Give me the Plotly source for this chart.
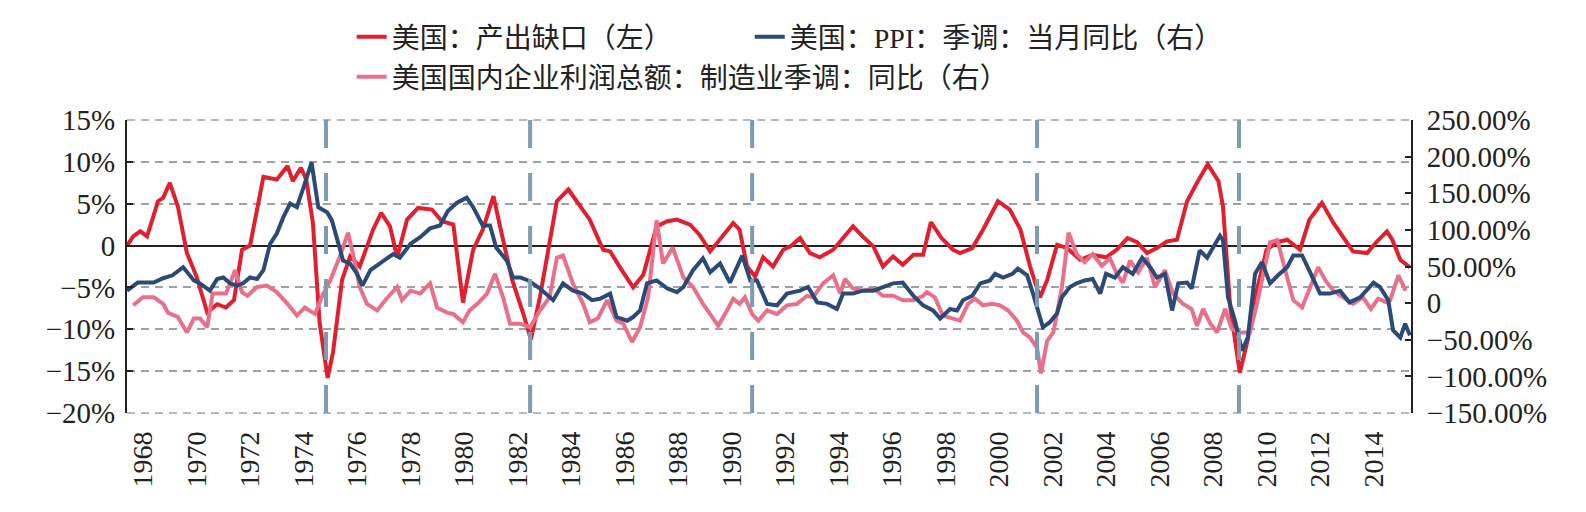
import plotly.graph_objects as go

# ---------------- data ----------------
gap_x = [1967.4, 1967.63, 1967.9, 1968.15, 1968.56, 1968.75, 1969.0, 1969.3, 1969.64, 1970.0, 1970.4, 1970.77,
         1971.1, 1971.4, 1971.7, 1972.0, 1972.5, 1973.0, 1973.4, 1973.6, 1973.9, 1974.1, 1974.35, 1974.6,
         1974.9, 1975.1, 1975.44, 1975.74, 1976.1, 1976.6, 1976.9, 1977.23, 1977.5, 1977.87, 1978.28, 1978.8,
         1979.17, 1979.6, 1979.96, 1980.34, 1980.7, 1981.1, 1981.4, 1981.8, 1982.2, 1982.5, 1982.84, 1983.2,
         1983.47, 1983.9, 1984.33, 1984.7, 1985.2, 1985.46, 1985.83, 1986.32, 1986.7, 1986.95, 1987.2, 1987.6,
         1987.96, 1988.45, 1988.8, 1989.2, 1989.57, 1990.06, 1990.3, 1990.58, 1990.88, 1991.18, 1991.55,
         1991.93, 1992.2, 1992.56, 1992.93, 1993.3, 1993.8, 1994.17, 1994.54, 1994.9, 1995.3, 1995.66, 1996.04,
         1996.4, 1996.8, 1997.16, 1997.45, 1997.85, 1998.28, 1998.54, 1999.0, 1999.4, 1999.96, 2000.4, 2000.8,
         2001.16, 2001.53, 2001.8, 2002.17, 2002.54, 2003.03, 2003.5, 2004.0, 2004.4, 2004.8, 2005.16, 2005.53,
         2005.9, 2006.28, 2006.65, 2007.03, 2007.4, 2007.8, 2008.2, 2008.37, 2008.64, 2009.0, 2009.3, 2009.64,
         2010.0, 2010.4, 2010.77, 2011.25, 2011.6, 2012.07, 2012.5, 2013.0, 2013.23, 2013.76, 2014.1, 2014.5,
         2014.7, 2015.0, 2015.36]
gap_y = [0.0, 1.1, 1.7, 1.1, 5.3, 5.7, 7.5, 4.7, -0.9, -3.7, -8.0, -7.0,
         -7.4, -6.5, -0.5, 0.0, 8.2, 7.9, 9.5, 7.7, 9.3, 7.9, 2.7, -9.2,
         -15.8, -12.8, -4.1, -1.3, -2.5, 1.9, 3.9, 2.3, -1.4, 3.1, 4.5, 4.3,
         2.9, 2.5, -6.8, -0.5, 1.9, 5.9, 1.5, -4.1, -8.0, -11.2, -6.1, 0.7,
         5.3, 6.7, 4.7, 3.1, -0.5, -0.7, -2.6, -5.0, -3.5, -0.5, 2.3, 2.9,
         3.1, 2.5, 1.3, -0.7, 0.7, 2.7, 1.9, -2.5, -3.7, -1.4, -2.5,
         -0.5, -0.1, 0.9, -0.9, -1.4, -0.5, 0.9, 2.3, 1.1, -0.1, -2.5, -1.3,
         -2.3, -1.1, -1.1, 2.8, 0.9, -0.5, -0.9, -0.3, 1.9, 5.3, 4.3, 1.9,
         -2.5, -6.2, -4.1, 0.1, -0.3, -1.7, -1.1, -1.4, -0.5, 0.9, 0.4, -0.9,
         -0.3, 0.5, 0.7, 5.3, 7.5, 9.7, 7.7, 4.7, -7.3, -15.2, -11.2, -5.3,
         -0.5, 0.4, 0.7, -0.5, 3.1, 5.1, 2.7, 0.4, -0.7, -0.9, 0.4, 1.7,
         0.7, -1.7, -2.6]

ppi_x = [1967.4, 1967.8, 1968.4, 1968.75, 1969.1, 1969.5, 1969.9, 1970.13, 1970.5, 1970.77, 1971.0, 1971.25,
         1971.5, 1971.74, 1972.0, 1972.26, 1972.5, 1972.75, 1973.0, 1973.24, 1973.5, 1973.75, 1974.0, 1974.3,
         1974.55, 1974.88, 1975.06, 1975.3, 1975.48, 1975.74, 1976.0, 1976.2, 1976.5, 1977.0, 1977.35, 1977.6,
         1978.0, 1978.36, 1978.73, 1979.1, 1979.4, 1979.74, 1980.1, 1980.34, 1980.7, 1980.97, 1981.2, 1981.6,
         1981.83, 1982.1, 1982.4, 1982.84, 1983.33, 1983.7, 1984.07, 1984.45, 1984.78, 1985.08, 1985.46, 1985.7,
         1986.1, 1986.32, 1986.58, 1986.84, 1987.2, 1987.6, 1987.96, 1988.2, 1988.56, 1988.93, 1989.2, 1989.57,
         1989.94, 1990.4, 1990.7, 1990.95, 1991.33, 1991.7, 1992.07, 1992.56, 1992.86, 1993.2, 1993.57, 1993.94,
         1994.17, 1994.54, 1994.9, 1995.3, 1995.66, 1996.04, 1996.4, 1996.8, 1997.16, 1997.53, 1997.8, 1998.17,
         1998.43, 1998.65, 1999.0, 1999.3, 1999.66, 1999.85, 2000.15, 2000.5, 2000.7, 2001.05, 2001.27, 2001.46,
         2001.64, 2001.9, 2002.17, 2002.35, 2002.65, 2002.9, 2003.2, 2003.5, 2003.78, 2004.0, 2004.33, 2004.63,
         2005.0, 2005.35, 2005.65, 2005.9, 2006.2, 2006.47, 2006.7, 2007.03, 2007.2, 2007.5, 2007.78, 2008.0,
         2008.26, 2008.37, 2008.56, 2008.82, 2009.08, 2009.3, 2009.57, 2009.83, 2010.13, 2010.43, 2010.77, 2011.0,
         2011.33, 2011.63, 2012.0, 2012.37, 2012.75, 2013.1, 2013.5, 2014.0, 2014.24, 2014.55, 2014.73, 2015.0,
         2015.18, 2015.36]
ppi_y = [17, 28, 28, 34, 38, 49, 31, 27, 17, 33, 35, 27,
         24, 27, 35, 33, 45, 81, 95, 117, 136, 131, 158, 192,
         131, 124, 113, 81, 58, 54, 40, 24, 45, 58, 67, 62,
         81, 90, 102, 106, 126, 137, 144, 131, 106, 106, 76, 58,
         35, 35, 31, 20, 4, 27, 17, 13, 4, 6, 13, -19,
         -24, -19, -10, 27, 31, 20, 15, 22, 45, 61, 42, 54,
         28, 65, 31, 31, -1, -3, 13, 17, 22, 1, -1, -8,
         13, 13, 17, 17, 22, 27, 28, 10, -3, -10, -21, -8,
         -10, 4, 10, 27, 31, 40, 35, 40, 47, 38, 13, -10,
         -33, -26, -14, 8, 22, 27, 31, 33, 13, 40, 35, 49,
         40, 62, 49, 35, 40, -10, 27, 28, 20, 72, 62, 76,
         92, 86, 8, -24, -65, -47, 40, 56, 27, 38, 49, 65,
         65, 42, 13, 13, 17, 1, 8, 28, 22, 4, -37, -47,
         -28, -44]

prof_x = [1967.63, 1968.0, 1968.4, 1968.75, 1968.93, 1969.3, 1969.64, 1969.9, 1970.13, 1970.4, 1970.6, 1970.88,
          1971.1, 1971.44, 1971.7, 1971.9, 1972.26, 1972.63, 1973.0, 1973.4, 1973.75, 1974.05, 1974.43, 1974.7,
          1975.0, 1975.37, 1975.66, 1975.85, 1976.1, 1976.37, 1976.75, 1977.1, 1977.5, 1977.68, 1978.0, 1978.36,
          1978.73, 1978.99, 1979.36, 1979.6, 1979.96, 1980.2, 1980.5, 1980.86, 1981.16, 1981.46, 1981.72, 1982.1,
          1982.47, 1982.84, 1983.2, 1983.47, 1983.7, 1984.07, 1984.45, 1984.7, 1985.0, 1985.35, 1985.7, 1985.95,
          1986.28, 1986.58, 1986.88, 1987.2, 1987.44, 1987.8, 1988.2, 1988.56, 1988.93, 1989.2, 1989.5, 1989.83,
          1990.06, 1990.3, 1990.5, 1990.77, 1991.0, 1991.33, 1991.7, 1992.07, 1992.45, 1992.82, 1993.05, 1993.42,
          1993.8, 1994.06, 1994.24, 1994.54, 1994.9, 1995.3, 1995.66, 1996.04, 1996.4, 1996.8, 1997.16, 1997.3,
          1997.6, 1997.9, 1998.28, 1998.54, 1998.84, 1999.1, 1999.4, 1999.74, 2000.04, 2000.34, 2000.67, 2000.9,
          2001.16, 2001.42, 2001.57, 2001.8, 2002.03, 2002.35, 2002.6, 2002.9, 2003.2, 2003.5, 2003.84, 2004.15,
          2004.4, 2004.63, 2004.9, 2005.2, 2005.53, 2005.83, 2006.2, 2006.5, 2006.88, 2007.2, 2007.4, 2007.63,
          2007.9, 2008.15, 2008.45, 2008.7, 2009.0, 2009.38, 2009.64, 2009.94, 2010.13, 2010.4, 2010.7, 2011.0,
          2011.33, 2011.63, 2011.93, 2012.2, 2012.5, 2012.86, 2013.23, 2013.6, 2013.9, 2014.17, 2014.5, 2014.62,
          2014.93, 2015.2]
prof_y = [-3, 8, 8, -1, -13, -19, -40, -21, -21, -33, 13, 13,
          13, 45, 15, 10, 22, 24, 15, -1, -17, -6, -15, 10,
          31, 65, 96, 67, 22, -1, -10, 6, 22, 4, 17, 13,
          27, -6, -13, -15, -26, -10, -1, 13, 40, 8, -28, -28,
          -33, -10, 8, 62, 65, 27, -1, -26, -21, 4, -24, -28,
          -53, -33, 8, 113, 54, 76, 35, 22, -1, -15, -31, -10,
          6, -1, 8, -15, -24, -10, -15, -3, -1, 10, 8, 27,
          38, 13, 33, 20, 17, 20, 10, 10, 4, 4, 10, 15,
          8, -17, -21, -24, -1, 6, -3, -1, -3, -10, -24, -40,
          -47, -61, -96, -51, -40, 22, 96, 67, 56, 67, 51, 61,
          40, 28, 58, 42, 62, 22, 45, 13, -1, -8, -31, -8,
          -28, -40, -8, -35, -40, -40, -1, 49, 83, 86, 45, 4,
          -6, 22, 49, 31, 17, 8, -1, 8, -8, 6, 1, 4,
          38, 17]

recession_x = [1974.84, 1982.47, 1990.77, 2001.42, 2008.97]

year_ticks = list(range(1968, 2015, 2))
year_labels = [str(y) for y in year_ticks]
left_ticks = [-20, -15, -10, -5, 0, 5, 10, 15]
left_labels = ["−20%", "−15%", "−10%", "−5%", "0", "5%", "10%", "15%"]
right_ticks = [-150, -100, -50, 0, 50, 100, 150, 200, 250]
right_labels = ["−150.00%", "−100.00%", "−50.00%", "0", "50.00%", "100.00%", "150.00%", "200.00%", "250.00%"]

names = ["美国：产出缺口（左）", "美国：PPI：季调：当月同比（右）", "美国国内企业利润总额：制造业季调：同比（右）"]

# ---------------- figure ----------------
RED = "#e0202e"
BLUE = "#2b4a78"
PINK = "#e8708a"
GRID = "#9aa3aa"
SERIF = "Liberation Serif, Times New Roman, serif"
LEGFONT = "Liberation Serif, Noto Sans CJK SC, serif"

fig = go.Figure()
fig.add_trace(go.Scatter(x=prof_x, y=prof_y, name=names[2], yaxis="y2", mode="lines",
                         line=dict(color=PINK, width=4), legend="legend3", showlegend=True))
fig.add_trace(go.Scatter(x=ppi_x, y=ppi_y, name=names[1], yaxis="y2", mode="lines",
                         line=dict(color=BLUE, width=4), legend="legend2", showlegend=True))
fig.add_trace(go.Scatter(x=gap_x, y=gap_y, name=names[0], yaxis="y", mode="lines",
                         line=dict(color=RED, width=4), legend="legend", showlegend=True))

# top and bottom dashed grid lines (plotly omits gridlines at the range edges)
for edge in (0, 1):
    fig.add_shape(type="line", xref="paper", yref="paper", x0=0, x1=1, y0=edge, y1=edge,
                  line=dict(color=GRID, width=1.5, dash="8px,6px"), layer="below")

for rx in recession_x:
    fig.add_shape(type="line", xref="x", yref="paper", x0=rx, x1=rx, y0=0, y1=1.01,
                  line=dict(color="#7d9bb3", width=4, dash="28px,25px"), layer="above")

leg_common = dict(orientation="h", xanchor="left", yanchor="middle", bgcolor="rgba(0,0,0,0)",
                  font=dict(family=LEGFONT, size=28, color="#222"), borderwidth=0, visible=True)

fig.update_layout(
    width=1586, height=512,
    margin=dict(l=127, r=175, t=120, b=99),
    paper_bgcolor="white", plot_bgcolor="white",
    showlegend=True,
    legend=dict(x=0.175, y=1.283, **leg_common),
    legend2=dict(x=0.485, y=1.283, **leg_common),
    legend3=dict(x=0.175, y=1.147, **leg_common),
    xaxis=dict(range=[1967.4, 2015.4], tickmode="array", tickvals=year_ticks, ticktext=year_labels,
               tickangle=-90, showgrid=False, zeroline=False, showline=False, ticks="",
               tickfont=dict(family=SERIF, size=28, color="#222"), ticklabelstandoff=12),
    yaxis=dict(range=[-20, 15], tickmode="array", tickvals=left_ticks, ticktext=left_labels,
               showgrid=True, gridcolor=GRID, griddash="8px,6px", gridwidth=1.5,
               zeroline=True, zerolinecolor="#222", zerolinewidth=1.5,
               showline=True, linecolor="#222", linewidth=2, ticks="inside", ticklen=6,
               tickcolor="#222", tickwidth=2,
               tickfont=dict(family=SERIF, size=29, color="#222"), ticklabelstandoff=4),
    yaxis2=dict(range=[-150, 250], overlaying="y", side="right", tickmode="array",
                tickvals=right_ticks, ticktext=right_labels, showgrid=False, zeroline=False,
                showline=True, linecolor="#222", linewidth=2, ticks="inside", ticklen=6,
                tickcolor="#222", tickwidth=2,
                tickfont=dict(family=SERIF, size=29, color="#222"), ticklabelstandoff=8),
)

fig.write_html("out.html")
